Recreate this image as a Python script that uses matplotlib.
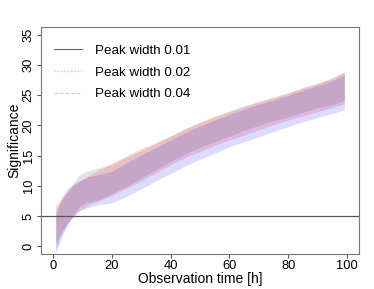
import matplotlib
matplotlib.use("Agg")
import matplotlib.pyplot as plt
import numpy as np

plt.rcParams['font.family'] = ['Liberation Sans', 'DejaVu Sans']

# observation times [h]
hours = [1, 3, 5, 7, 9, 12, 15, 20, 25, 30, 35, 40, 45, 50, 55, 60, 65, 70, 75, 80, 85, 90, 95, 99]

# significance bands (upper / lower) per peak width
upper_001 = [6.0, 7.5, 9.0, 10.5, 11.8, 12.5, 12.9, 13.6, 14.7, 15.9, 17.0, 18.2, 19.5, 20.6, 21.6, 22.4, 23.3, 24.0, 24.7, 25.4, 26.3, 27.0, 27.8, 28.8]
lower_001 = [-0.5, 2.0, 3.8, 5.2, 6.6, 7.3, 7.6, 8.7, 9.9, 11.3, 12.7, 14.0, 15.3, 16.4, 17.3, 18.2, 19.2, 20.0, 20.8, 21.4, 22.2, 23.0, 23.4, 24.2]
upper_002 = [6.8, 8.0, 9.0, 10.0, 10.8, 11.6, 12.5, 13.7, 15.0, 16.2, 17.2, 18.3, 19.4, 20.4, 21.4, 22.3, 23.1, 23.9, 24.6, 25.4, 26.2, 27.0, 27.9, 28.9]
lower_002 = [0.5, 2.5, 3.8, 4.8, 5.8, 6.8, 7.4, 8.4, 9.6, 10.8, 12.2, 13.5, 14.7, 15.7, 16.7, 17.6, 18.4, 19.3, 20.1, 20.9, 21.6, 22.3, 23.0, 23.6]
upper_004 = [5.0, 8.0, 9.6, 10.2, 10.8, 11.5, 11.8, 12.4, 13.8, 15.1, 16.3, 17.6, 18.8, 19.9, 20.9, 21.8, 22.7, 23.5, 24.2, 25.0, 25.8, 26.6, 27.4, 28.4]
lower_004 = [-1.3, 1.5, 3.5, 5.0, 6.0, 6.4, 6.8, 7.2, 8.2, 9.5, 10.8, 12.0, 13.3, 14.4, 15.4, 16.5, 17.3, 18.1, 19.0, 19.8, 20.6, 21.3, 22.0, 22.6]

labels = ['Peak width 0.01', 'Peak width 0.02', 'Peak width 0.04']
threshold = 5

fig = plt.figure(figsize=(3.74, 2.89), dpi=100)
ax = fig.add_axes([0.1096, 0.121, 0.8504, 0.7856])

ax.fill_between(hours, lower_001, upper_001, color=(0.5, 0.5, 0.5), alpha=0.22, linewidth=0)
ax.fill_between(hours, lower_002, upper_002, color=(1, 0, 0), alpha=0.15, linewidth=0)
ax.fill_between(hours, lower_004, upper_004, color=(0, 0, 1), alpha=0.14, linewidth=0)

ax.axhline(threshold, color='#555555', linewidth=0.9)

# legend handles
ax.plot([], [], color='#666666', linewidth=0.8, label=labels[0])
ax.plot([], [], color='#ffa8a8', linewidth=0.9, linestyle=':', label=labels[1])
ax.plot([], [], color='#c4c4ff', linewidth=0.8, linestyle=(0, (3, 2)), label=labels[2])
ax.legend(loc='upper left', frameon=False, fontsize=9.6, handlelength=2.1,
          handletextpad=0.95, labelspacing=0.7, borderaxespad=0.0,
          bbox_to_anchor=(0.025, 0.945))

ax.set_xlim(-4, 104)
ax.set_ylim(-1.3, 36.3)
ax.set_xticks([0, 20, 40, 60, 80, 100])
ax.set_yticks(range(0, 36, 5))
for lbl in ax.get_yticklabels():
    lbl.set_rotation(90)
    lbl.set_va('center')
ax.tick_params(labelsize=9.3, length=3, width=0.8, color='#555555', pad=1.5)
for s in ax.spines.values():
    s.set_color('#777777')
    s.set_linewidth(0.8)

ax.set_xlabel('Observation time [h]', fontsize=10, labelpad=-0.5)
ax.set_ylabel('Significance', fontsize=10, labelpad=1)

fig.savefig('out.png', dpi=100)
